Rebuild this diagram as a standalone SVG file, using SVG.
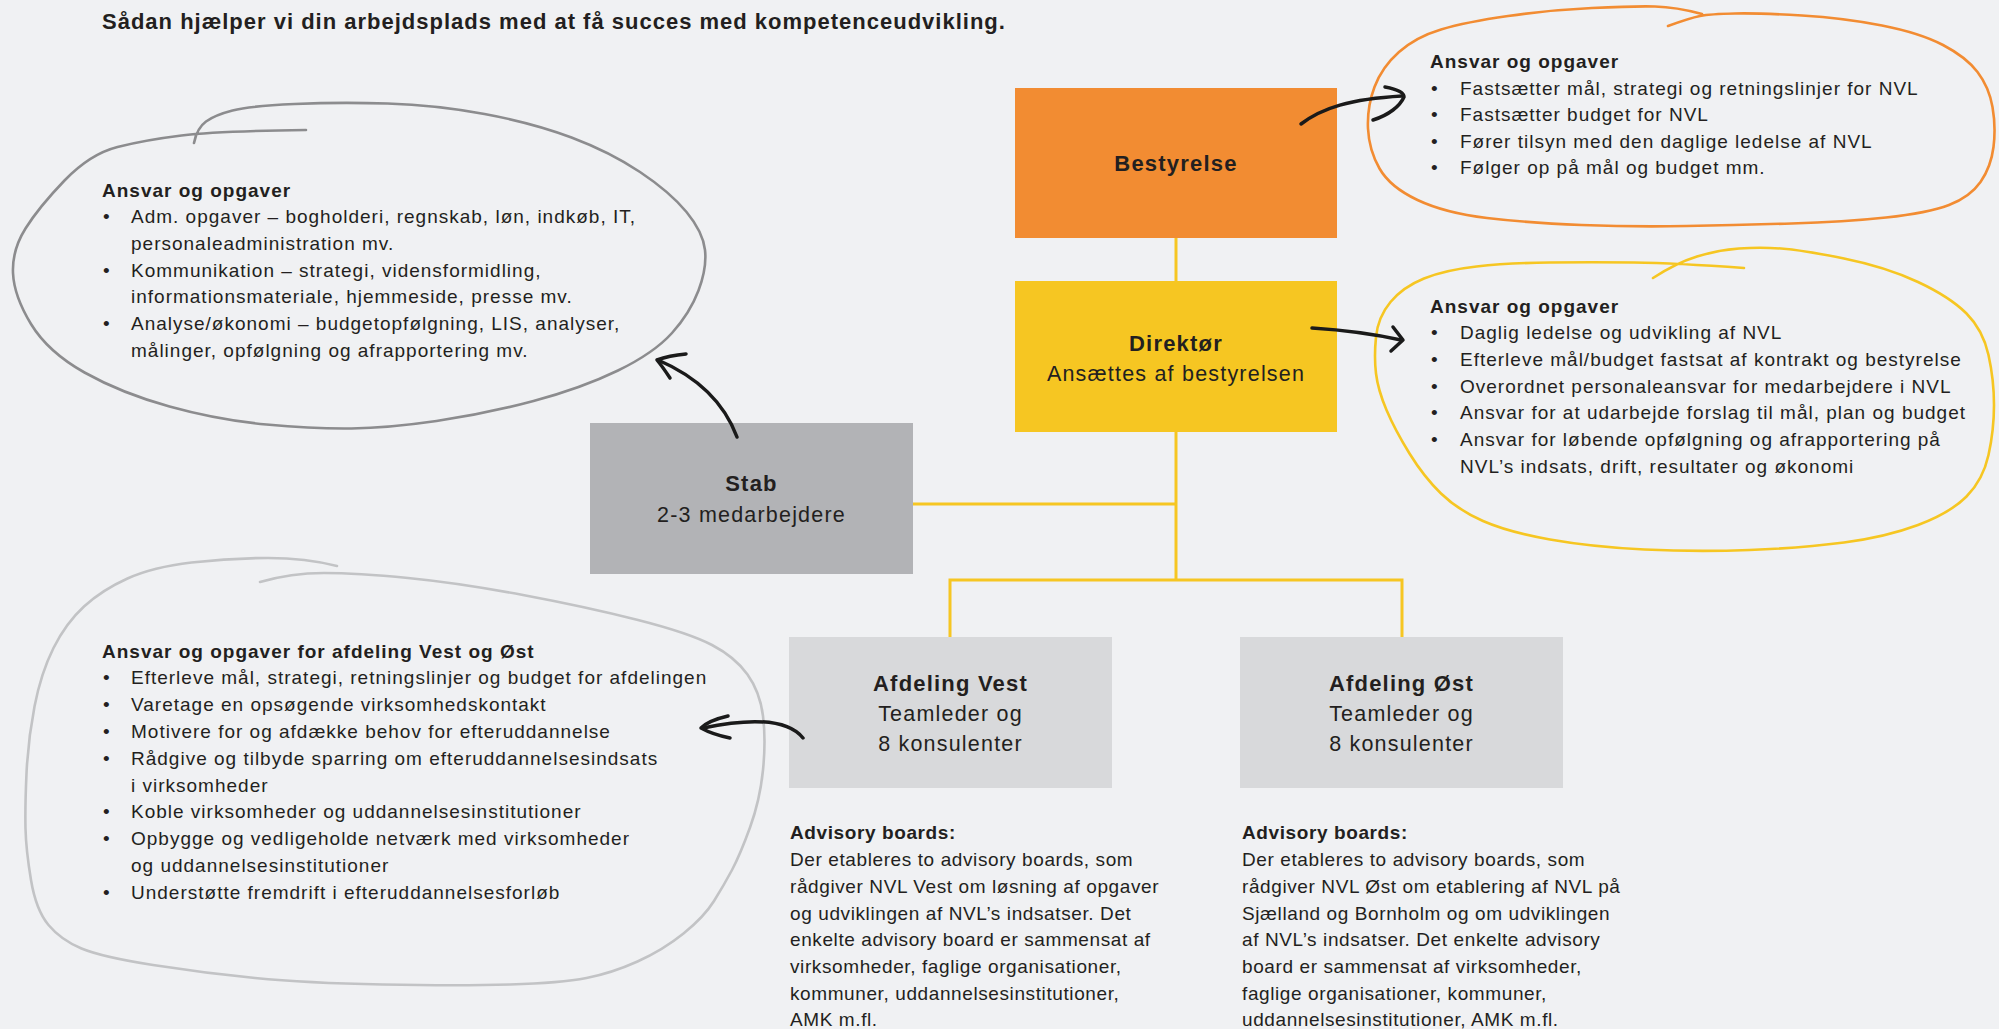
<svg xmlns="http://www.w3.org/2000/svg" width="1999" height="1029" viewBox="0 0 1999 1029">
<style>
text{font-family:"Liberation Sans",Arial,sans-serif;fill:#231f20}
.t{font-size:19px;letter-spacing:1px}
.h{font-size:19px;font-weight:bold;letter-spacing:1px}
.a{font-size:19px;letter-spacing:0.6px}
.ah{font-size:19px;font-weight:bold;letter-spacing:0.6px}
.title{font-size:22px;font-weight:bold;letter-spacing:1px}
.bx{font-size:21.5px;letter-spacing:1.2px;text-anchor:middle}
.bxh{font-size:22px;font-weight:bold;letter-spacing:1.2px;text-anchor:middle}
.conn{stroke:#f6c622;stroke-width:3;fill:none}
.loop{fill:none;stroke-width:2.6;stroke-linecap:round;stroke-linejoin:round}
.arr{fill:none;stroke:#1a1a1a;stroke-width:3.5;stroke-linecap:round;stroke-linejoin:round}
</style>
<rect width="1999" height="1029" fill="#f0f1f3"/>
<text class="title" x="102" y="29">Sådan hjælper vi din arbejdsplads med at få succes med kompetenceudvikling.</text>

<g id="connectors">
<path class="conn" d="M1176,238 V281"/>
<path class="conn" d="M1176,432 V580"/>
<path class="conn" d="M913,504 H1176"/>
<path class="conn" d="M950,637 V580 H1402 V637"/>
</g>

<g id="node-bestyrelse">
<rect x="1015" y="88" width="322" height="150" fill="#f28c32"/>
<text class="bxh" x="1176" y="171">Bestyrelse</text>
</g>
<g id="node-direktor">
<rect x="1015" y="281" width="322" height="151" fill="#f6c622"/>
<text class="bxh" x="1176" y="351">Direktør</text>
<text class="bx" x="1176" y="381">Ansættes af bestyrelsen</text>
</g>
<g id="node-stab">
<rect x="590" y="423" width="323" height="151" fill="#b2b3b6"/>
<text class="bxh" x="751.5" y="491">Stab</text>
<text class="bx" x="751.5" y="522">2-3 medarbejdere</text>
</g>
<g id="node-vest">
<rect x="789" y="637" width="323" height="151" fill="#d8d9db"/>
<text class="bxh" x="950.5" y="691">Afdeling Vest</text>
<text class="bx" x="950.5" y="721">Teamleder og</text>
<text class="bx" x="950.5" y="751">8 konsulenter</text>
</g>
<g id="node-ost">
<rect x="1240" y="637" width="323" height="151" fill="#d8d9db"/>
<text class="bxh" x="1401.5" y="691">Afdeling Øst</text>
<text class="bx" x="1401.5" y="721">Teamleder og</text>
<text class="bx" x="1401.5" y="751">8 konsulenter</text>
</g>

<g id="note-bestyrelse">
<path class="loop" stroke="#f28c32" d="M1668,26 Q1690,18 1700,16 T1735,13.5 T1802,15.5 T1882,25.5 T1943,45 T1977.5,72 T1992.5,107 T1993.5,147 T1980.5,182 T1949,205 T1886,217.5 T1791.5,223.5 T1686.5,226 T1581.5,225 T1487,218 T1417.5,200 T1379.5,168.5 T1368,128.5 T1374.5,87 T1399,52 T1441,29.5 T1508,16 T1592,8 T1655,6.5 Q1676,7 1702,14"/>
<text class="h" x="1430" y="68">Ansvar og opgaver</text>
<text class="t" x="1431" y="94.5">•</text><text class="t" x="1460" y="94.5">Fastsætter mål, strategi og retningslinjer for NVL</text>
<text class="t" x="1431" y="121">•</text><text class="t" x="1460" y="121">Fastsætter budget for NVL</text>
<text class="t" x="1431" y="147.5">•</text><text class="t" x="1460" y="147.5">Fører tilsyn med den daglige ledelse af NVL</text>
<text class="t" x="1431" y="174">•</text><text class="t" x="1460" y="174">Følger op på mål og budget mm.</text>
</g>

<g id="note-direktor">
<path class="loop" stroke="#f6c622" d="M1653,278 Q1676,263 1697,256.5 T1739,248.5 T1781,248.5 T1844,258.5 T1918,282 T1966.5,313.5 T1988.5,355 T1994,405 T1988.5,455 T1966.5,496.5 T1918,525 T1844,542.5 T1749.5,550 T1644.5,549.5 T1550,539.5 T1483,521 T1441,493.5 T1409.5,453.5 T1386.5,410 T1376,373.5 T1376,337 T1390.5,302 T1424,278.5 T1476.5,266.5 T1550,262.5 T1634,262.5 Q1676,263 1744,268"/>
<text class="h" x="1430" y="313">Ansvar og opgaver</text>
<text class="t" x="1431" y="339">•</text><text class="t" x="1460" y="339">Daglig ledelse og udvikling af NVL</text>
<text class="t" x="1431" y="366">•</text><text class="t" x="1460" y="366">Efterleve mål/budget fastsat af kontrakt og bestyrelse</text>
<text class="t" x="1431" y="393">•</text><text class="t" x="1460" y="393">Overordnet personaleansvar for medarbejdere i NVL</text>
<text class="t" x="1431" y="419">•</text><text class="t" x="1460" y="419">Ansvar for at udarbejde forslag til mål, plan og budget</text>
<text class="t" x="1431" y="446">•</text><text class="t" x="1460" y="446">Ansvar for løbende opfølgning og afrapportering på</text>
<text class="t" x="1460" y="473">NVL’s indsats, drift, resultater og økonomi</text>
</g>

<g id="note-stab">
<path class="loop" stroke="#8c8c8e" d="M194,143 Q197,128 206,121.5 T232.5,110.5 T294.5,104 T387.5,103.5 T484.5,114 T571.5,137.5 T640,172 T686.5,212 T705,250 T698.5,290.5 T672,333 T618,370.5 T533.5,401 T436.5,421 T351.5,428.5 T266.5,424.5 T169.5,406.5 T84.5,372.5 T31,324 T13,273 T25.5,228.5 T64.5,180.5 T117.5,147 T181.5,135.5 Q218,131 306,130"/>
<text class="h" x="102" y="197">Ansvar og opgaver</text>
<text class="t" x="103" y="223">•</text><text class="t" x="131" y="223">Adm. opgaver – bogholderi, regnskab, løn, indkøb, IT,</text>
<text class="t" x="131" y="250">personaleadministration mv.</text>
<text class="t" x="103" y="277">•</text><text class="t" x="131" y="277">Kommunikation – strategi, vidensformidling,</text>
<text class="t" x="131" y="303">informationsmateriale, hjemmeside, presse mv.</text>
<text class="t" x="103" y="330">•</text><text class="t" x="131" y="330">Analyse/økonomi – budgetopfølgning, LIS, analyser,</text>
<text class="t" x="131" y="357">målinger, opfølgning og afrapportering mv.</text>
</g>

<g id="note-afdelinger">
<path class="loop" stroke="#c2c3c5" d="M260,582 Q291,573 324,573 T408,578 T523,595 T638,620 T712,645 T747.5,674.5 T763,716 T763,770 T750,827.5 T732,870 T714,901 T683.5,933.5 T637.5,961.5 T586.5,978 T510,984.5 T382.5,984.5 T255,978 T153,965 T81.5,948.5 T48.5,925 T31,880 T25.5,828.5 T26.5,773.5 T34.5,706.5 T53.5,648 T84,606.5 T127.5,578.5 T191.5,562.5 T268,558 Q306,558 337,566"/>
<text class="h" x="102" y="658">Ansvar og opgaver for afdeling Vest og Øst</text>
<text class="t" x="103" y="684">•</text><text class="t" x="131" y="684">Efterleve mål, strategi, retningslinjer og budget for afdelingen</text>
<text class="t" x="103" y="711">•</text><text class="t" x="131" y="711">Varetage en opsøgende virksomhedskontakt</text>
<text class="t" x="103" y="738">•</text><text class="t" x="131" y="738">Motivere for og afdække behov for efteruddannelse</text>
<text class="t" x="103" y="765">•</text><text class="t" x="131" y="765">Rådgive og tilbyde sparring om efteruddannelsesindsats</text>
<text class="t" x="131" y="792">i virksomheder</text>
<text class="t" x="103" y="818">•</text><text class="t" x="131" y="818">Koble virksomheder og uddannelsesinstitutioner</text>
<text class="t" x="103" y="845">•</text><text class="t" x="131" y="845">Opbygge og vedligeholde netværk med virksomheder</text>
<text class="t" x="131" y="872">og uddannelsesinstitutioner</text>
<text class="t" x="103" y="899">•</text><text class="t" x="131" y="899">Understøtte fremdrift i efteruddannelsesforløb</text>
</g>

<g id="advisory-vest">
<text class="ah" x="790" y="839">Advisory boards:</text>
<text class="a" x="790" y="866">Der etableres to advisory boards, som</text>
<text class="a" x="790" y="893">rådgiver NVL Vest om løsning af opgaver</text>
<text class="a" x="790" y="920">og udviklingen af NVL’s indsatser. Det</text>
<text class="a" x="790" y="946">enkelte advisory board er sammensat af</text>
<text class="a" x="790" y="973">virksomheder, faglige organisationer,</text>
<text class="a" x="790" y="1000">kommuner, uddannelsesinstitutioner,</text>
<text class="a" x="790" y="1026">AMK m.fl.</text>
</g>
<g id="advisory-ost">
<text class="ah" x="1242" y="839">Advisory boards:</text>
<text class="a" x="1242" y="866">Der etableres to advisory boards, som</text>
<text class="a" x="1242" y="893">rådgiver NVL Øst om etablering af NVL på</text>
<text class="a" x="1242" y="920">Sjælland og Bornholm og om udviklingen</text>
<text class="a" x="1242" y="946">af NVL’s indsatser. Det enkelte advisory</text>
<text class="a" x="1242" y="973">board er sammensat af virksomheder,</text>
<text class="a" x="1242" y="1000">faglige organisationer, kommuner,</text>
<text class="a" x="1242" y="1026">uddannelsesinstitutioner, AMK m.fl.</text>
</g>

<g id="arrows">
<path class="arr" d="M1301,124 C1322,108 1350,99 1402,96"/>
<path class="arr" d="M1385,87 C1396,89 1404,92 1404,97 C1400,106 1389,115 1373,120"/>
<path class="arr" stroke-width="4.5" d="M1312,328 Q1360,331 1401,340"/>
<path class="arr" d="M1393,327 L1403,340 L1391,351"/>
<path class="arr" d="M737,437 C725,405 700,378 658,360"/>
<path class="arr" d="M686,354 C675,355 665,357 657,360 C662,366 666,372 670,378"/>
<path class="arr" d="M803,738 C790,722 760,716 703,728"/>
<path class="arr" d="M728,716 C715,719 706,723 701,728 C710,733 720,736 730,738"/>
</g>
</svg>
